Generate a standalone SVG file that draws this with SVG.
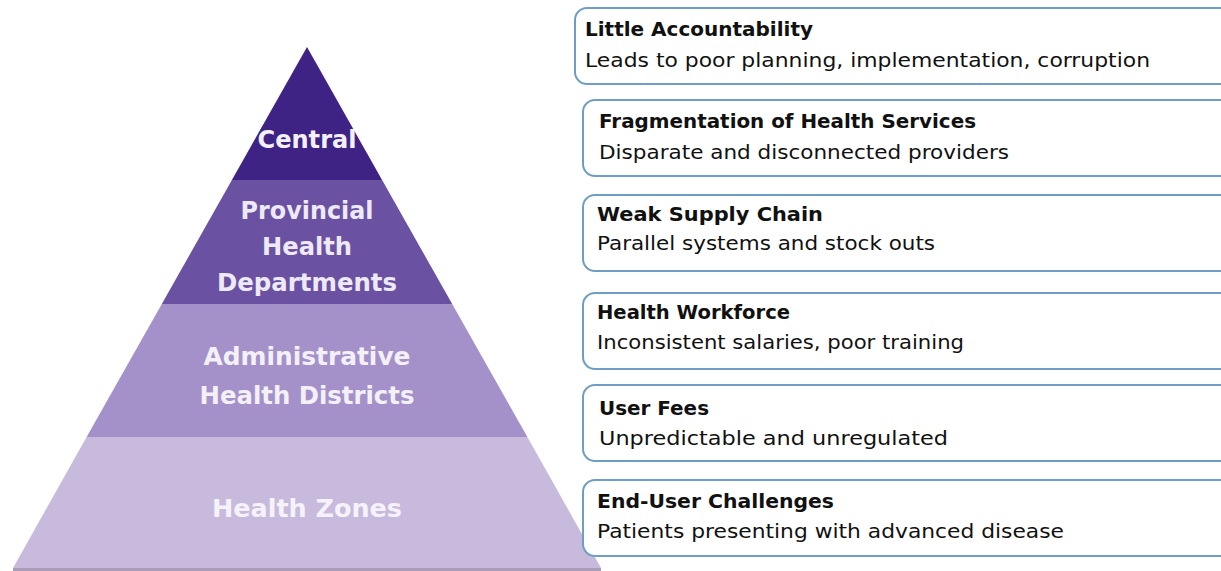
<svg xmlns="http://www.w3.org/2000/svg" width="1221" height="571" viewBox="0 0 1221 571">
  <style>
    .lvl { font-family: "DejaVu Sans", "Liberation Sans", sans-serif; font-weight: bold; font-size: 25px; text-anchor: middle; }
    .box { fill: #ffffff; stroke: #6e9ec3; stroke-width: 2; }
    .ttl { font-family: "DejaVu Sans", "Liberation Sans", sans-serif; font-weight: bold; font-size: 19px; fill: #111111; }
    .sub { font-family: "DejaVu Sans", "Liberation Sans", sans-serif; font-size: 19px; fill: #111111; }
  </style>
  <rect width="1221" height="571" fill="#ffffff"/>

  <!-- pyramid levels, apex (307,47), base 13..601 at y=568 -->
  <g id="pyramid">
    <g id="level-central">
      <polygon points="307,47 382.1,180 231.9,180" fill="#3f2384"/>
      <text class="lvl" x="307" y="148" fill="#f4f0fb" textLength="99" lengthAdjust="spacingAndGlyphs">Central</text>
    </g>
    <g id="level-provincial">
      <polygon points="231.9,180 382.1,180 452.2,304 161.8,304" fill="#6a51a2"/>
      <text class="lvl" x="307" y="219" fill="#eee9f6" textLength="133" lengthAdjust="spacingAndGlyphs">Provincial</text>
      <text class="lvl" x="307" y="255" fill="#eee9f6" textLength="90" lengthAdjust="spacingAndGlyphs">Health</text>
      <text class="lvl" x="307" y="291" fill="#eee9f6" textLength="180" lengthAdjust="spacingAndGlyphs">Departments</text>
    </g>
    <g id="level-districts">
      <polygon points="161.8,304 452.2,304 527.4,437 86.6,437" fill="#a591c9"/>
      <text class="lvl" x="307" y="365" fill="#f3f0f8" textLength="207" lengthAdjust="spacingAndGlyphs">Administrative</text>
      <text class="lvl" x="307" y="404" fill="#f3f0f8" textLength="215" lengthAdjust="spacingAndGlyphs">Health Districts</text>
    </g>
    <g id="level-zones">
      <polygon points="86.6,437 527.4,437 601,568 13,568" fill="#c8badc"/>
      <text class="lvl" x="307" y="517" fill="#f6f2fb" textLength="190" lengthAdjust="spacingAndGlyphs">Health Zones</text>
    </g>
    <rect x="13" y="568" width="588" height="3" fill="#a99db9"/>
  </g>

  <!-- challenge boxes, running off the right edge -->
  <g id="box-accountability">
    <rect class="box" x="575" y="8" width="660" height="76" rx="12"/>
    <text class="ttl" x="585" y="36" textLength="228" lengthAdjust="spacingAndGlyphs">Little Accountability</text>
    <text class="sub" x="585" y="67" textLength="565" lengthAdjust="spacingAndGlyphs">Leads to poor planning, implementation, corruption</text>
  </g>
  <g id="box-fragmentation">
    <rect class="box" x="583" y="100" width="660" height="76" rx="12"/>
    <text class="ttl" x="599" y="128" textLength="377" lengthAdjust="spacingAndGlyphs">Fragmentation of Health Services</text>
    <text class="sub" x="599" y="159" textLength="410" lengthAdjust="spacingAndGlyphs">Disparate and disconnected providers</text>
  </g>
  <g id="box-supply">
    <rect class="box" x="583" y="195" width="660" height="76" rx="12"/>
    <text class="ttl" x="597" y="221" textLength="226" lengthAdjust="spacingAndGlyphs">Weak Supply Chain</text>
    <text class="sub" x="597" y="250" textLength="338" lengthAdjust="spacingAndGlyphs">Parallel systems and stock outs</text>
  </g>
  <g id="box-workforce">
    <rect class="box" x="583" y="293" width="660" height="76" rx="12"/>
    <text class="ttl" x="597" y="319" textLength="193" lengthAdjust="spacingAndGlyphs">Health Workforce</text>
    <text class="sub" x="597" y="349" textLength="367" lengthAdjust="spacingAndGlyphs">Inconsistent salaries, poor training</text>
  </g>
  <g id="box-fees">
    <rect class="box" x="583" y="385" width="660" height="76" rx="12"/>
    <text class="ttl" x="599" y="415" textLength="110" lengthAdjust="spacingAndGlyphs">User Fees</text>
    <text class="sub" x="599" y="445" textLength="349" lengthAdjust="spacingAndGlyphs">Unpredictable and unregulated</text>
  </g>
  <g id="box-enduser">
    <rect class="box" x="583" y="480" width="660" height="76" rx="12"/>
    <text class="ttl" x="597" y="508" textLength="237" lengthAdjust="spacingAndGlyphs">End-User Challenges</text>
    <text class="sub" x="597" y="538" textLength="467" lengthAdjust="spacingAndGlyphs">Patients presenting with advanced disease</text>
  </g>

  <g id="connectors"/>
</svg>
